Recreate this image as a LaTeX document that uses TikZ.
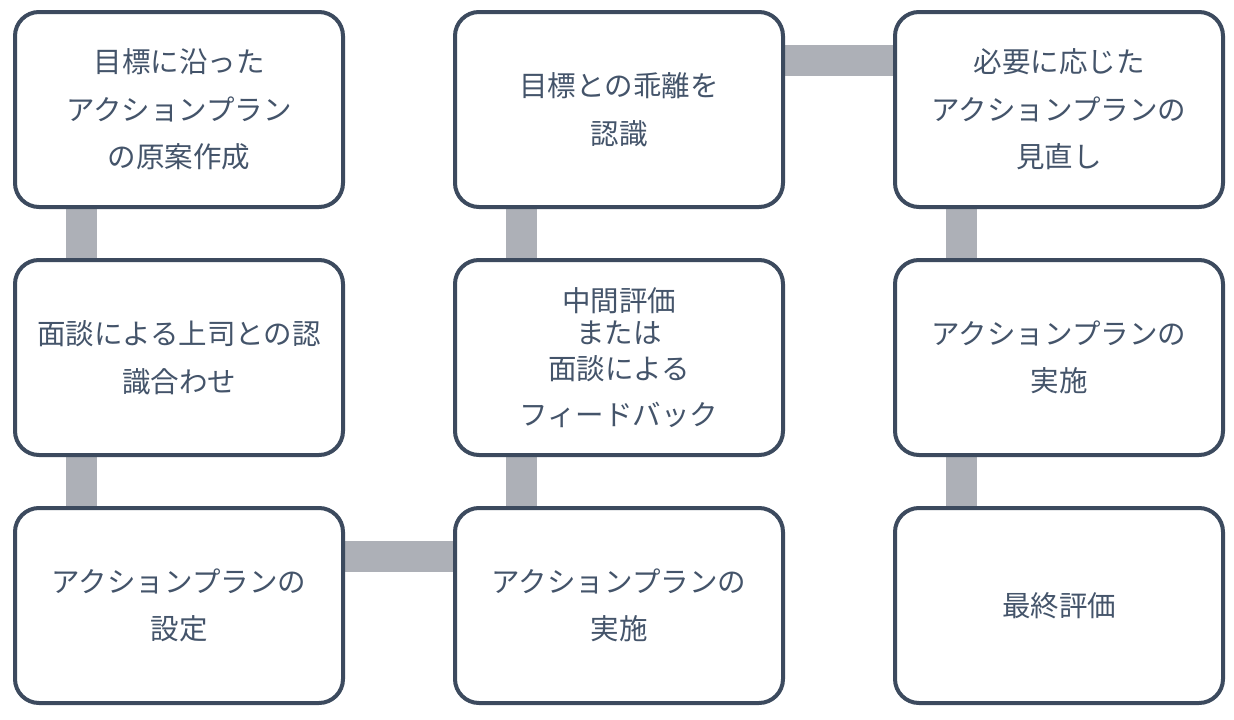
\documentclass[tikz,border=0pt]{standalone}
\usepackage{fontspec}
\usetikzlibrary{backgrounds}
\newfontfamily\cjk{Noto Sans CJK JP}
\definecolor{boxline}{HTML}{3C4A5E}
\definecolor{txt}{HTML}{44546A}
\definecolor{barc}{HTML}{ADB0B7}
\begin{document}
\begin{tikzpicture}[x=1pt,y=-1pt,
  stepbox/.style={draw=boxline, line width=4pt, rounded corners=24pt, fill=white,
    minimum width=328pt, minimum height=195pt, inner sep=0pt, align=center,
    text=txt, font=\cjk\fontsize{28.5}{47.5}\selectfont},
  bar/.style={draw=barc, line width=31pt}]
\useasboundingbox (0,0) rectangle (1234,720);
\node[stepbox] (a) at (179,109.5) {目標に沿った\\アクションプラン\\の原案作成};
\node[stepbox] (b) at (179,357.5) {面談による上司との認\\識合わせ};
\node[stepbox] (c) at (179,605.5) {アクションプランの\\設定};
\node[stepbox] (d) at (619,605.5) {アクションプランの\\実施};
\node[stepbox, font=\cjk\fontsize{28.5}{32}\selectfont] (e) at (619,357.5) {中間評価\\または\\[4pt]面談による\\[14pt]フィードバック};
\node[stepbox] (f) at (619,109.5) {目標との乖離を\\認識};
\node[stepbox] (g) at (1059,109.5) {必要に応じた\\アクションプランの\\見直し};
\node[stepbox] (h) at (1059,357.5) {アクションプランの\\実施};
\node[stepbox] (i) at (1059,605.5) {最終評価};
\begin{scope}[on background layer]
\draw[bar] ([xshift=-97.5pt]a.center) -- ([xshift=-97.5pt]b.center);
\draw[bar] ([xshift=-97.5pt]b.center) -- ([xshift=-97.5pt]c.center);
\draw[bar] ([yshift=49.5pt]c.center) -- ([yshift=49.5pt]d.center);
\draw[bar] ([xshift=-97.5pt]d.center) -- ([xshift=-97.5pt]e.center);
\draw[bar] ([xshift=-97.5pt]e.center) -- ([xshift=-97.5pt]f.center);
\draw[bar] ([yshift=49.5pt]f.center) -- ([yshift=49.5pt]g.center);
\draw[bar] ([xshift=-97.5pt]g.center) -- ([xshift=-97.5pt]h.center);
\draw[bar] ([xshift=-97.5pt]h.center) -- ([xshift=-97.5pt]i.center);
\end{scope}
\end{tikzpicture}
\end{document}
